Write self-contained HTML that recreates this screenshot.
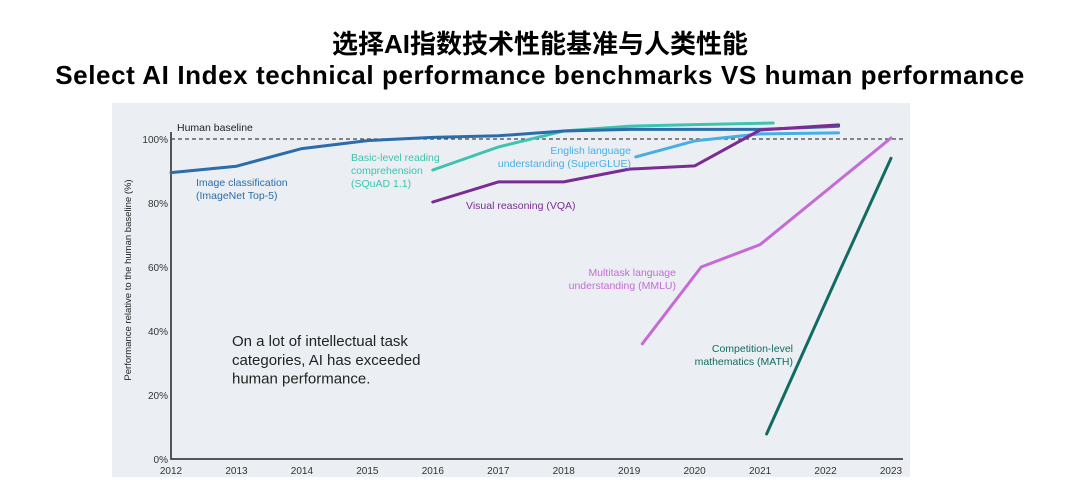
<!DOCTYPE html>
<html><head><meta charset="utf-8"><style>
body{margin:0;width:1080px;height:494px;background:#fff;overflow:hidden;font-family:"Liberation Sans","Noto Sans CJK SC",sans-serif}
.t{position:absolute;left:0;width:1080px;text-align:center;font-weight:bold;color:#000;white-space:nowrap}
</style></head><body>
<div class="t" style="top:28px;font-size:26px;line-height:32px;font-family:'Liberation Sans','Noto Sans CJK SC',sans-serif">选择AI指数技术性能基准与人类性能</div>
<div class="t" style="top:59px;font-size:26px;line-height:32px;letter-spacing:0.6px">Select AI Index technical performance benchmarks VS human performance</div>
<svg id="c" width="1080" height="494" style="position:absolute;left:0;top:0"></svg>
<script>
const years=[2012,2013,2014,2015,2016,2017,2018,2019,2020,2021,2022,2023];
const yTicks=[0,20,40,60,80,100];
const imgX=[2012,2013,2014,2015,2016,2017,2018,2019,2020,2021,2022.2];
const imgY=[89.5,91.5,97,99.5,100.5,101,102.5,103,103,103,104];
const squadX=[2016,2017,2018,2019,2020,2021.2];
const squadY=[90.3,97.5,102.5,104,104.5,105];
const glueX=[2019.1,2020,2021,2022.2];
const glueY=[94.4,99.4,101.6,101.9];
const vqaX=[2016,2017,2018,2019,2020,2021,2022.2];
const vqaY=[80.3,86.6,86.6,90.6,91.6,102.8,104.4];
const mmluX=[2019.2,2020.1,2021,2023];
const mmluY=[36,60,67,100.3];
const mathX=[2021.1,2022.2,2023];
const mathY=[7.8,58,94];
const NS="http://www.w3.org/2000/svg";
const svg=document.getElementById('c');
const x0=171,x1=891,y0=459,y100=139;
const sx=v=>x0+(v-2012)*(x1-x0)/11;
const sy=v=>y0-(v)*(y0-y100)/100;
function mk(tag,attrs,parent){const e=document.createElementNS(NS,tag);for(const k in attrs)e.setAttribute(k,attrs[k]);(parent||svg).appendChild(e);return e;}
let bg=mk('rect',{x:112,y:103,width:798,height:374,fill:'#ebeff3'});


let ax=mk('path',{d:`M${x0} 132V${y0}H${x1+12}`,stroke:'#222',fill:'none','stroke-width':1.5});


yTicks.forEach(t=>{let e=mk('text',{x:x0-3,y:sy(t)+4,'text-anchor':'end','font-size':10,fill:'#333'});e.textContent=t+'%';

});
years.forEach(y=>{let e=mk('text',{x:sx(y),y:474,'text-anchor':'middle','font-size':10,fill:'#333'});e.textContent=y;

});
let bl=mk('line',{x1:x0,x2:905,y1:sy(100),y2:sy(100),stroke:'#444','stroke-dasharray':'4,3','stroke-width':1.2});


let blt=mk('text',{x:177,y:131,'font-size':10.5,fill:'#222'});blt.textContent='Human baseline';


let yt=mk('text',{x:0,y:0,'font-size':9.5,fill:'#222','text-anchor':'middle',transform:'translate(131,280) rotate(-90)'});yt.textContent='Performance relative to the human baseline (%)';


function line(xs,ys,color,name){let d=xs.map((x,i)=>(i?'L':'M')+sx(x).toFixed(1)+' '+sy(ys[i]).toFixed(1)).join('');
let p=mk('path',{d:d,stroke:color,fill:'none','stroke-width':3,'stroke-linecap':'round','stroke-linejoin':'round'});

}
line(squadX,squadY,'#3cc4b0','line-squad');
line(glueX,glueY,'#48aee6','line-superglue');
line(imgX,imgY,'#2b6cab','line-imagenet');
line(vqaX,vqaY,'#7a2c94','line-vqa');
line(mmluX,mmluY,'#c56ad6','line-mmlu');
line(mathX,mathY,'#126b62','line-math');
function lab(lines,x,y,color,anchor,name,size){let e=mk('text',{x:x,y:y,'font-size':size||10.5,fill:color,'text-anchor':anchor});
lines.forEach((l,i)=>{let s=mk('tspan',{x:x,dy:i?(size?size*1.25:13):0},e);s.textContent=l;});

}
lab(['Image classification','(ImageNet Top-5)'],196,186,'#2b6cab','start','label-imagenet');
lab(['Basic-level reading','comprehension','(SQuAD 1.1)'],351,161,'#3cc4b0','start','label-squad');
lab(['English language','understanding (SuperGLUE)'],631,154,'#48aee6','end','label-superglue');
lab(['Visual reasoning (VQA)'],466,209,'#7a2c94','start','label-vqa');
lab(['Multitask language','understanding (MMLU)'],676,276,'#c56ad6','end','label-mmlu');
lab(['Competition-level','mathematics (MATH)'],793,352,'#126b62','end','label-math');
lab(['On a lot of intellectual task','categories, AI has exceeded','human performance.'],232,346,'#222','start','annotation',15);
</script>
</body></html>
